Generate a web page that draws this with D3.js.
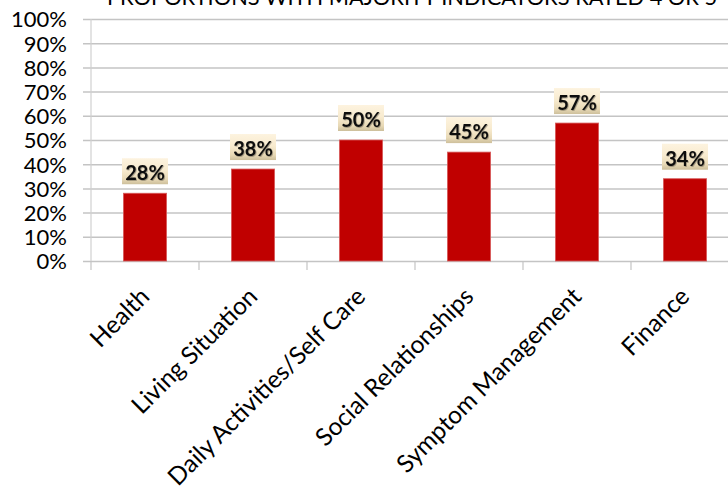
<!DOCTYPE html>
<html>
<head>
<meta charset="utf-8">
<script src="https://cdn.jsdelivr.net/npm/d3@7"></script>
<style>
  html, body { margin: 0; padding: 0; background: #fff; }
  svg { display: block; }
</style>
</head>
<body>
<svg id="chart" width="728" height="487"></svg>
<script>
// Domains rated and the share of people with a majority of indicators rated 4 or 5
const categories = ["Health", "Living Situation", "Daily Activities/Self Care",
                    "Social Relationships", "Symptom Management", "Finance"];
const proportions = [0.28, 0.38, 0.50, 0.45, 0.57, 0.34];
const yTicks = [0, 0.1, 0.2, 0.3, 0.4, 0.5, 0.6, 0.7, 0.8, 0.9, 1.0];
const title = "PROPORTIONS WITH MAJORITY INDICATORS RATED 4 OR 5";

const svg = d3.select("#chart");
const W = 728, H = 487;
const plot = { left: 91, right: 739, top: 19, bottom: 261 };

const x = d3.scaleBand()
  .domain(categories)
  .range([plot.left, plot.right])
  .paddingInner(0.6)
  .paddingOuter(0.3);

const y = d3.scaleLinear().domain([0, 1]).range([plot.bottom, plot.top]);

const gridColor = "#c4c4c4";
const fontFamily = "Lato, 'Open Sans', sans-serif";

// Label-box gradient
const defs = svg.append("defs");
const grad = defs.append("linearGradient")
  .attr("id", "labelFill").attr("x1", 0).attr("y1", 0).attr("x2", 0).attr("y2", 1);
[["0%", "#fdf3df"], ["45%", "#f8ebcf"], ["80%", "#e8d9b6"], ["100%", "#cdbf9b"]]
  .forEach(([o, c]) => grad.append("stop").attr("offset", o).attr("stop-color", c));

const shadow = defs.append("filter").attr("id", "txtShadow")
  .attr("x", "-20%").attr("y", "-20%").attr("width", "140%").attr("height", "140%");
shadow.append("feDropShadow").attr("dx", 0.8).attr("dy", 0.8)
  .attr("stdDeviation", 0.6).attr("flood-color", "#000").attr("flood-opacity", 0.35);

// Title (runs off the top edge)
svg.append("text")
  .attr("x", 107).attr("y", 4.5)
  .attr("font-family", fontFamily)
  .attr("font-size", 21.8)
  .attr("fill", "#000")
  .text(title);

// Horizontal gridlines with short left stubs
const yAxis = d3.axisLeft(y)
  .tickValues(yTicks)
  .tickSize(-(W - plot.left) - 8)
  .tickFormat(d3.format(".0%"));

const gy = svg.append("g")
  .attr("transform", `translate(${plot.left - 8},0)`)
  .call(yAxis);
gy.select(".domain").remove();
gy.selectAll(".tick line")
  .attr("x1", 0).attr("x2", W - plot.left + 8)
  .attr("stroke", gridColor).attr("stroke-width", 1.5);
gy.selectAll(".tick text")
  .attr("x", -16).attr("dy", "0.36em")
  .attr("font-family", fontFamily)
  .attr("font-size", 22)
  .attr("fill", "#000");

// Vertical value axis line
svg.append("line")
  .attr("x1", plot.left).attr("x2", plot.left)
  .attr("y1", plot.top).attr("y2", plot.bottom)
  .attr("stroke", "#d0d0d0").attr("stroke-width", 1.2);

// Category axis: tick marks at band boundaries
const step = x.step();
const boundaries = d3.range(categories.length + 1).map(i => plot.left + i * step);
svg.append("g").selectAll("line")
  .data(boundaries)
  .join("line")
  .attr("x1", d => d).attr("x2", d => d)
  .attr("y1", plot.bottom).attr("y2", plot.bottom + 9)
  .attr("stroke", gridColor).attr("stroke-width", 1.2);

// Bars
svg.append("g").selectAll("rect")
  .data(proportions)
  .join("rect")
  .attr("x", (d, i) => x(categories[i]))
  .attr("y", d => y(d))
  .attr("width", x.bandwidth())
  .attr("height", d => y(0) - y(d))
  .attr("fill", "#c00000")
  .attr("stroke", "#d85c5c")
  .attr("stroke-width", 0.8);

// Value labels in shaded boxes
const boxW = 46, boxH = 26, gap = 9;
const labels = svg.append("g").selectAll("g")
  .data(proportions)
  .join("g")
  .attr("transform", (d, i) => {
    const cx = x(categories[i]) + x.bandwidth() / 2;
    return `translate(${cx},${y(d) - gap})`;
  });
labels.append("rect")
  .attr("x", -boxW / 2).attr("y", -boxH)
  .attr("width", boxW).attr("height", boxH)
  .attr("fill", "url(#labelFill)");
labels.append("text")
  .attr("x", 0).attr("y", -4)
  .attr("text-anchor", "middle")
  .attr("font-family", fontFamily)
  .attr("font-weight", "bold")
  .attr("font-size", 20)
  .attr("fill", "#111")
  .attr("filter", "url(#txtShadow)")
  .text(d => d3.format(".0%")(d));

// Rotated category labels
svg.append("g").selectAll("text")
  .data(categories)
  .join("text")
  .attr("transform", d => `translate(${x(d) + x.bandwidth() / 2 + 6},298) rotate(-45)`)
  .attr("text-anchor", "end")
  .attr("font-family", fontFamily)
  .attr("font-size", 24.5)
  .attr("fill", "#000")
  .text(d => d);
</script>
</body>
</html>
